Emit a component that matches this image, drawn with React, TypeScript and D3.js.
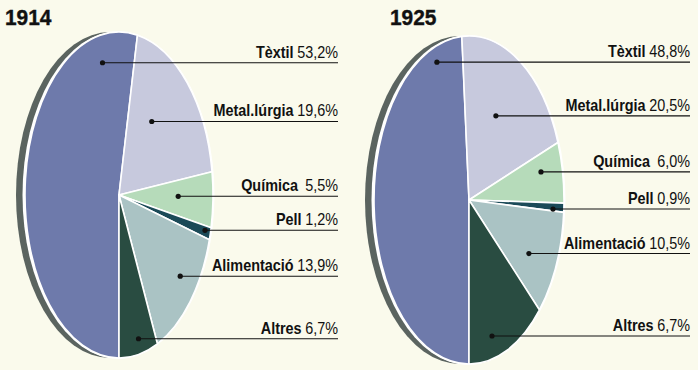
import * as d3 from 'd3'

const sectors = ['Tèxtil', 'Metal.lúrgia', 'Química', 'Pell', 'Alimentació', 'Altres']
const colors = ['#6e7aab', '#c7c9dd', '#b6dbba', '#1b4a58', '#aac3c4', '#294c41']

const shares1914 = [53.2, 19.6, 5.5, 1.2, 13.9, 6.7]
const labels1914 = ['53,2%', '19,6%', '5,5%', '1,2%', '13,9%', '6,7%']

// Altres is drawn at ~13% in the original although its label says 6,7%
const shares1925 = [48.8, 20.5, 6.0, 0.9, 10.5, 13.3]
const labels1925 = ['48,8%', '20,5%', '6,0%', '0,9%', '10,5%', '6,7%']

const W = 698
const H = 370
const FONT = '"Liberation Sans", Arial, sans-serif'

// leader dot placement per slice: [fraction along slice angle, fraction of radius]
const DOTS_1914: [number, number][] = [
  [0.877, 0.83],
  [0.374, 0.57],
  [0.45, 0.63],
  [0.4, 0.94],
  [0.43, 0.82],
  [0.45, 0.906],
]
const DOTS_1925: [number, number][] = [
  [0.9, 0.906],
  [0.45, 0.586],
  [0.36, 0.777],
  [0.77, 0.886],
  [0.61, 0.71],
  [0.66, 0.864],
]

type PieProps = {
  title: string
  shares: number[]
  labels: string[]
  dots: [number, number][]
  cx: number
  cy: number
  rx: number
  ry: number
  titleX: number
  labelRight: number
}

function EllipsePie({ title, shares, labels, dots, cx, cy, rx, ry, titleX, labelRight }: PieProps) {
  const pie = d3
    .pie<number>()
    .sort(null)
    .startAngle(Math.PI)
    .endAngle(3 * Math.PI)
  const arcs = pie(shares)
  const arc = d3.arc<d3.PieArcDatum<number>>().innerRadius(0).outerRadius(ry)

  return (
    <g>
      <g transform={`translate(${titleX},25) scale(0.95,1)`}>
        <text fontFamily={FONT} fontWeight={700} fontSize={22} fill="#111" stroke="#111" strokeWidth={0.4}>
          {title}
        </text>
      </g>
      <ellipse cx={cx - 9} cy={cy} rx={rx} ry={ry} fill="#5b6460" />
      <ellipse cx={cx - 0.5} cy={cy} rx={rx + 2} ry={ry + 1} fill="#ffffff" />
      <g transform={`translate(${cx},${cy}) scale(${rx / ry},1)`}>
        {arcs.map((a, i) => (
          <path
            key={i}
            d={arc(a) ?? ''}
            fill={colors[i]}
            stroke="#ffffff"
            strokeWidth={1.6}
            strokeLinejoin="round"
            vectorEffect="non-scaling-stroke"
          />
        ))}
      </g>
      {arcs.map((a, i) => {
        const [f, r] = dots[i]
        const t = a.startAngle + f * (a.endAngle - a.startAngle)
        const px = cx + rx * r * Math.sin(t)
        const py = cy - ry * r * Math.cos(t)
        return (
          <g key={i}>
            <line x1={px} x2={labelRight} y1={py} y2={py} stroke="#111" strokeWidth={1.1} />
            <circle cx={px} cy={py} r={2.6} fill="#111" />
            <g transform={`translate(${labelRight},${py - 5}) scale(0.9,1)`}>
              <text textAnchor="end" fontFamily={FONT} fontSize={16} fill="#111">
                <tspan fontWeight={700}>{sectors[i]}</tspan>
                <tspan dx={sectors[i] === 'Química' ? 8 : 4}>{labels[i]}</tspan>
              </text>
            </g>
          </g>
        )
      })}
    </g>
  )
}

export default function App() {
  return (
    <svg
      width={W}
      height={H}
      viewBox={`0 0 ${W} ${H}`}
      style={{ position: 'absolute', left: 0, top: 0, display: 'block' }}
    >
      <rect width={W} height={H} fill="#fafaec" />
      <EllipsePie
        title="1914"
        shares={shares1914}
        labels={labels1914}
        dots={DOTS_1914}
        cx={119}
        cy={195}
        rx={94}
        ry={163}
        titleX={5}
        labelRight={338}
      />
      <EllipsePie
        title="1925"
        shares={shares1925}
        labels={labels1925}
        dots={DOTS_1925}
        cx={469}
        cy={200}
        rx={95}
        ry={164}
        titleX={390}
        labelRight={690}
      />
    </svg>
  )
}
